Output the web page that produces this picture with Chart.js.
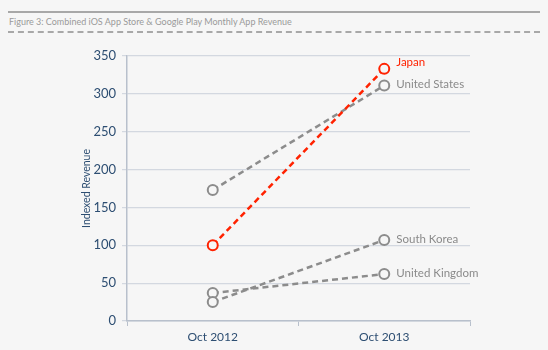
<!DOCTYPE html>
<html>
<head>
<meta charset="utf-8">
<script src="https://cdn.jsdelivr.net/npm/chart.js@4"></script>
<style>
    html, body { margin: 0; padding: 0; background: #f6f6f6; }
    #wrap { position: relative; width: 548px; height: 350px; overflow: hidden; }
    #topline { position: absolute; left: 8px; top: 11px; width: 532px; border-top: 2px solid #a8a8a8; }
    #title { position: absolute; left: 9px; top: 16px; font-family: "Lato", sans-serif; font-size: 9px; color: #9a9a9a; }
    #dashline { position: absolute; left: 8px; top: 31px; width: 532px; border-top: 2px dashed #a8a8a8; }
    canvas { position: absolute; left: 0; top: 0; }
</style>
</head>
<body>
<div id="wrap">
    <div id="topline"></div>
    <div id="title">Figure 3: Combined iOS App Store &amp; Google Play Monthly App Revenue</div>
    <div id="dashline"></div>
    <canvas id="chart" width="548" height="350"></canvas>
</div>
<script>
const categories = ["Oct 2012", "Oct 2013"];
const countries = ["Japan", "United States", "South Korea", "United Kingdom"];
const japan = [100, 333];
const unitedStates = [173, 311];
const southKorea = [25, 107];
const unitedKingdom = [37, 62];
const yTicks = [0, 50, 100, 150, 200, 250, 300, 350];

const gray = "#8c8c8c";
const red = "#ff2200";

function series(label, values, color) {
    return {
        label: label,
        data: values,
        borderColor: color,
        backgroundColor: "#f6f6f6",
        borderWidth: 2.5,
        borderDash: [6, 4],
        pointRadius: 5,
        pointBorderWidth: 2,
        pointBackgroundColor: "#f6f6f6",
        pointBorderColor: color,
        tension: 0
    };
}

// label each series next to its last point
const endLabels = {
    id: "endLabels",
    afterDatasetsDraw(chart) {
        const ctx = chart.ctx;
        ctx.save();
        ctx.font = "11.5px Lato, sans-serif";
        ctx.textBaseline = "middle";
        chart.data.datasets.forEach((ds, i) => {
            const pt = chart.getDatasetMeta(i).data[1];
            const dy = ds.label === "Japan" ? -7 : -1;
            ctx.fillStyle = ds.label === "Japan" ? red : "#8a8a8a";
            ctx.fillText(ds.label, pt.x + 12, pt.y + dy);
        });
        ctx.restore();
    }
};

const ctx = document.getElementById("chart").getContext("2d");
new Chart(ctx, {
    type: "line",
    data: {
        labels: categories,
        datasets: [
            series(countries[0], japan, red),
            series(countries[1], unitedStates, gray),
            series(countries[2], southKorea, gray),
            series(countries[3], unitedKingdom, gray)
        ]
    },
    options: {
        responsive: false,
        animation: false,
        layout: { padding: { left: 80, right: 78, top: 56, bottom: 0 } },
        plugins: {
            legend: { display: false },
            tooltip: { enabled: false }
        },
        scales: {
            x: {
                offset: true,
                afterFit: (scale) => { scale.height = 29; },
                grid: {
                    offset: true,
                    drawOnChartArea: false,
                    drawTicks: true,
                    tickLength: 5,
                    color: "#b8c0cc"
                },
                border: { color: "#b8c0cc", width: 1.5 },
                ticks: {
                    color: "#2d4e72",
                    font: { family: "Lato", size: 12 },
                    padding: 4
                }
            },
            y: {
                min: 0,
                max: 350,
                afterFit: (scale) => { scale.width = 47; },
                afterBuildTicks: (scale) => { scale.ticks = yTicks.map(v => ({ value: v })); },
                grid: {
                    color: "#d3d8e0",
                    lineWidth: 1.2,
                    tickLength: 5
                },
                border: { color: "#b8c0cc", width: 1.5 },
                ticks: {
                    color: "#2d4e72",
                    font: { family: "Lato", size: 13 },
                    padding: 6
                },
                title: {
                    display: true,
                    text: "Indexed Revenue",
                    color: "#2d4e72",
                    font: { family: "Lato", size: 10.5 },
                    padding: { top: 0, bottom: 4 }
                }
            }
        }
    },
    plugins: [endLabels]
});
</script>
</body>
</html>
